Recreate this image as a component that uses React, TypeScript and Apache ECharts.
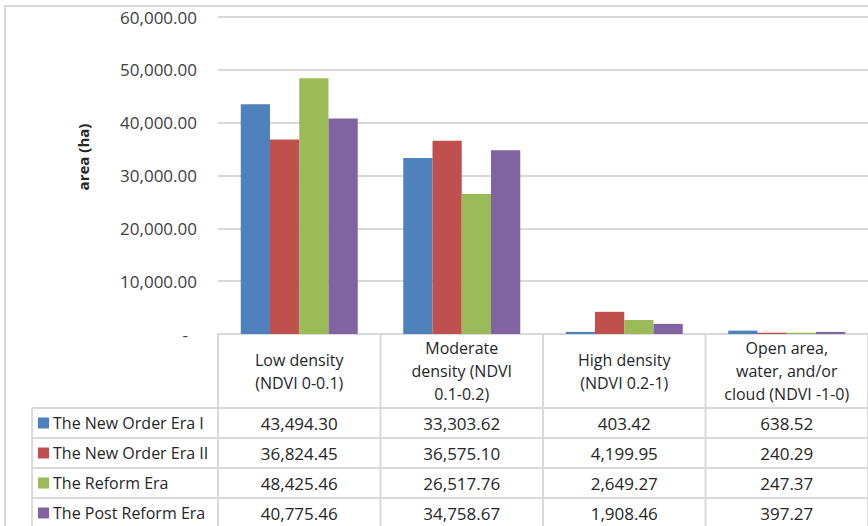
import React, { useEffect, useRef } from "react";
import * as echarts from "echarts";

const categories = [
  "Low density\n(NDVI 0-0.1)",
  "Moderate\ndensity (NDVI\n0.1-0.2)",
  "High density\n(NDVI 0.2-1)",
  "Open area,\nwater, and/or\ncloud (NDVI -1-0)",
];
const seriesNames = [
  "The New Order Era I",
  "The New Order Era II",
  "The Reform Era",
  "The Post Reform Era",
];
const newOrderEraI = [43494.3, 33303.62, 403.42, 638.52];
const newOrderEraII = [36824.45, 36575.1, 4199.95, 240.29];
const reformEra = [48425.46, 26517.76, 2649.27, 247.37];
const postReformEra = [40775.46, 34758.67, 1908.46, 397.27];
const seriesValues = [newOrderEraI, newOrderEraII, reformEra, postReformEra];
const colors = ["#4F81BD", "#C0504D", "#9BBB59", "#8064A2"];
const yMin = 0;
const yMax = 60000;
const yInterval = 10000;
const yTitle = "area (ha)";

const FONT = '"Open Sans", "Noto Sans", sans-serif';
const GRID = "#D9D9D9";
const fmt = (v: number) =>
  v.toLocaleString("en-US", { minimumFractionDigits: 2, maximumFractionDigits: 2 });

export default function App() {
  const ref = useRef<HTMLDivElement>(null);
  useEffect(() => {
    if (!ref.current) return;
    const chart = echarts.init(ref.current, undefined, { renderer: "svg" });
    chart.setOption({
      animation: false,
      grid: { left: 218, right: -6, top: 17, bottom: 192, containLabel: false },
      xAxis: {
        type: "category",
        data: categories,
        axisLine: { show: true, lineStyle: { color: GRID, width: 2 } },
        axisTick: { show: false },
        axisLabel: { show: false },
      },
      yAxis: {
        type: "value",
        min: yMin,
        max: yMax,
        interval: yInterval,
        axisLine: { show: false },
        axisTick: { show: false },
        splitLine: { lineStyle: { color: GRID, width: 2 } },
        axisLabel: {
          margin: 21,
          color: "#404040",
          fontSize: 17,
          fontFamily: FONT,
          formatter: (v: number) => (v === 0 ? "{z|-}" : fmt(v)),
          rich: { z: { fontSize: 17, fontFamily: FONT, color: "#404040", padding: [0, 9, 0, 0] } },
        },
      },
      series: seriesNames.map((name, i) => ({
        type: "bar",
        name,
        data: seriesValues[i],
        itemStyle: { color: colors[i] },
        barGap: "0%",
        barCategoryGap: "28%",
      })),
    });

    const axisY = chart.convertToPixel({ yAxisIndex: 0 }, 0) as number;
    const c0 = chart.convertToPixel({ xAxisIndex: 0 }, 0) as number;
    const c1 = chart.convertToPixel({ xAxisIndex: 0 }, 1) as number;
    const band = c1 - c0;
    const centers = categories.map((_, i) => chart.convertToPixel({ xAxisIndex: 0 }, i) as number);
    const edges = [centers[0] - band / 2, ...centers.map((c) => c + band / 2)];
    const headerH = 74;
    const rowH = 30;
    const legendLeft = 32;
    const rowsTop = axisY + headerH;
    const tableBottom = rowsTop + rowH * seriesNames.length;
    const rightEdge = edges[edges.length - 1];

    const els: any[] = [];
    els.push({
      type: "rect",
      shape: { x: 5, y: 6, width: 900, height: 600 },
      style: { fill: "none", stroke: GRID, lineWidth: 2 },
      silent: true,
    });
    els.push({
      type: "text",
      x: 83,
      y: 157,
      rotation: Math.PI / 2,
      style: {
        text: yTitle,
        fontSize: 15,
        fontWeight: "bold",
        fontFamily: FONT,
        fill: "#262626",
        align: "center",
        verticalAlign: "middle",
      },
    });
    edges.forEach((x) => {
      els.push({
        type: "line",
        shape: { x1: x, y1: axisY, x2: x, y2: tableBottom },
        style: { stroke: GRID, lineWidth: 2 },
      });
    });
    els.push({
      type: "line",
      shape: { x1: legendLeft, y1: rowsTop, x2: legendLeft, y2: tableBottom },
      style: { stroke: GRID, lineWidth: 2 },
    });
    for (let r = 0; r <= seriesNames.length; r++) {
      const y = rowsTop + r * rowH;
      els.push({
        type: "line",
        shape: { x1: legendLeft, y1: y, x2: rightEdge, y2: y },
        style: { stroke: GRID, lineWidth: 2 },
      });
    }
    categories.forEach((cat, i) => {
      els.push({
        type: "text",
        x: centers[i],
        y: axisY + headerH / 2,
        style: {
          text: cat,
          fontSize: 16,
          lineHeight: 23,
          fontFamily: FONT,
          fill: "#262626",
          align: "center",
          verticalAlign: "middle",
        },
      });
    });
    seriesNames.forEach((name, r) => {
      const cy = rowsTop + r * rowH + rowH / 2;
      els.push({
        type: "rect",
        shape: { x: 38, y: cy - 5.5, width: 11, height: 11 },
        style: { fill: colors[r] },
      });
      els.push({
        type: "text",
        x: 53,
        y: cy,
        style: {
          text: name,
          fontSize: 16,
          fontFamily: FONT,
          fill: "#262626",
          align: "left",
          verticalAlign: "middle",
        },
      });
      seriesValues[r].forEach((v, i) => {
        els.push({
          type: "text",
          x: centers[i],
          y: cy,
          style: {
            text: fmt(v),
            fontSize: 17,
            fontFamily: FONT,
            fill: "#262626",
            align: "center",
            verticalAlign: "middle",
          },
        });
      });
    });
    chart.setOption({ graphic: { elements: els } });

    return () => chart.dispose();
  }, []);
  return (
    <div
      ref={ref}
      style={{ position: "fixed", left: 0, top: 0, width: 868, height: 526, background: "#fff" }}
    />
  );
}
